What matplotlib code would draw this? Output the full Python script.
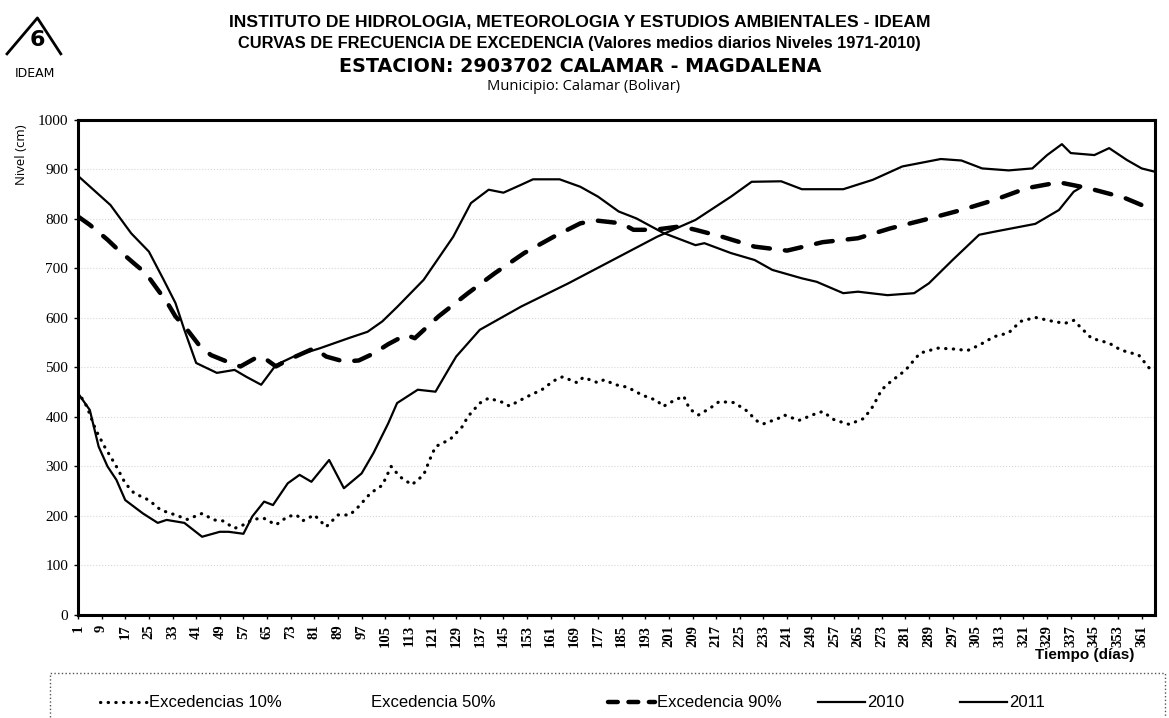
import numpy as np
import matplotlib
matplotlib.use('Agg')
from matplotlib import pyplot as plt
from matplotlib.lines import Line2D
from matplotlib.patches import Rectangle

# curve readings (day of year, level in cm)
days_10 = [1, 4, 7, 10, 14, 17, 20, 25, 29, 34,
           38, 43, 47, 50, 54, 57, 59, 62, 64, 68,
           72, 75, 77, 81, 85, 89, 93, 96, 100, 104,
           107, 110, 114, 118, 120, 122, 127, 131, 133, 137,
           140, 145, 147, 153, 158, 162, 165, 170, 172, 177,
           179, 183, 187, 192, 197, 199, 203, 206, 208, 211,
           215, 218, 223, 227, 231, 233, 238, 240, 245, 250,
           253, 257, 262, 267, 270, 273, 276, 281, 286, 292,
           298, 302, 306, 311, 316, 320, 325, 331, 335, 338,
           344, 350, 354, 360, 365]
exc_10 = [451, 421, 374, 340, 300, 266, 246, 232, 212, 202,
          193, 205, 192, 190, 175, 182, 189, 195, 195, 182,
          199, 202, 190, 202, 178, 202, 202, 219, 246, 262,
          300, 279, 263, 283, 313, 340, 355, 380, 401, 428,
          438, 429, 422, 441, 455, 473, 481, 469, 480, 469,
          475, 465, 460, 444, 433, 421, 434, 442, 416, 404,
          418, 431, 429, 414, 391, 386, 397, 404, 393, 405,
          411, 394, 385, 397, 421, 455, 471, 494, 529, 539,
          537, 534, 545, 562, 570, 593, 601, 593, 589, 595,
          559, 549, 535, 525, 488]

days_90 = [1, 5, 11, 14, 20, 24, 28, 31, 34, 38, 42, 46, 53, 56, 62, 65, 68, 72,
           81, 85, 91, 96, 101, 106, 112, 115, 123, 133, 142, 152, 162, 171, 176,
           185, 189, 196, 205, 210, 219, 230, 241, 253, 265, 276, 288, 300, 311,
           322, 333, 343, 355, 365]
exc_90 = [805, 788, 758, 741, 710, 690, 657, 633, 603, 576, 545, 525, 508, 502, 522, 515, 502, 515,
          539, 522, 512, 514, 528, 547, 566, 559, 603, 650, 690, 731, 764, 791, 797,
          791, 778, 778, 785, 778, 764, 744, 736, 753, 761, 781, 799, 818, 838,
          862, 874, 862, 843, 818]

days_2010 = [1, 5, 8, 11, 14, 17, 23, 28, 31, 37, 40, 43, 49, 52, 57, 60, 64, 67, 72,
             76, 80, 86, 91, 97, 101, 106, 109, 116, 122, 127, 129, 137, 151, 167,
             182, 197, 210, 222, 229, 239, 246, 260, 270, 280, 293, 300, 307, 316,
             324, 329, 334, 337, 345, 350, 356, 361, 365]
lvl_2010 = [448, 414, 340, 300, 273, 232, 205, 186, 192, 186, 172, 158, 168, 168, 164, 199, 229, 222, 266,
            283, 269, 313, 256, 286, 327, 387, 428, 455, 451, 502, 522, 576, 623, 670,
            717, 764, 798, 845, 875, 876, 860, 860, 879, 906, 921, 918, 902, 898,
            902, 929, 951, 933, 929, 943, 919, 902, 896]

days_2011 = [1, 12, 19, 25, 30, 34, 37, 41, 48, 54, 58, 63, 68, 74, 83, 93, 99, 104,
             109, 118, 128, 134, 140, 145, 151, 155, 164, 171, 177, 184, 190, 199,
             210, 213, 222, 230, 236, 246, 251, 260, 265, 275, 284, 289, 297, 306,
             311, 325, 333, 338, 340]
lvl_2011 = [887, 828, 771, 734, 677, 630, 576, 509, 489, 495, 481, 465, 505, 522, 539, 560, 572, 593,
            622, 677, 764, 832, 859, 853, 869, 880, 880, 865, 845, 815, 801, 772,
            747, 751, 731, 717, 697, 680, 673, 650, 653, 646, 650, 670, 717, 768,
            774, 790, 818, 855, 862]

x_ticks = list(range(1, 362, 8))
y_ticks = list(range(0, 1001, 100))
labels = ['Excedencias 10%', 'Excedencia 50%', 'Excedencia 90%', '2010', '2011']

W, H = 1169, 718
fig = plt.figure(figsize=(W / 100, H / 100), dpi=100)
ax = fig.add_axes([0.0667, 0.1435, 0.9213, 0.6895])

ax.plot(days_10, exc_10, color='black', lw=2.3, dashes=(0.1, 2.3),
        dash_capstyle='round', solid_joinstyle='round')
ax.plot(days_90, exc_90, color='black', lw=3.2, dashes=(3.8, 3.4),
        dash_capstyle='round')
ax.plot(days_2010, lvl_2010, color='black', lw=1.6)
ax.plot(days_2011, lvl_2011, color='black', lw=1.6)

ax.set_xlim(1, 365.5)
ax.set_ylim(0, 1000)
ax.set_yticks(y_ticks)
ax.set_xticks(x_ticks)
ax.set_xticklabels([str(t) for t in x_ticks], rotation=90, fontsize=10.5,
                   family='Liberation Serif', fontweight='bold')
ax.set_yticklabels([str(t) for t in y_ticks], fontsize=11, family='Liberation Serif')
ax.tick_params(axis='both', length=3, width=1, pad=4)
ax.grid(axis='y', color='#d8d8d8', linestyle=':', lw=0.8)
for s in ax.spines.values():
    s.set_linewidth(2.2)

sans = 'Liberation Sans'
fig.text(0.496, 0.969, 'INSTITUTO DE HIDROLOGIA, METEOROLOGIA Y ESTUDIOS AMBIENTALES - IDEAM',
         ha='center', va='center', fontsize=12.6, fontweight='bold', family=sans)
fig.text(0.496, 0.939, 'CURVAS DE FRECUENCIA DE EXCEDENCIA (Valores medios diarios Niveles 1971-2010)',
         ha='center', va='center', fontsize=11.8, fontweight='bold', family=sans)
fig.text(0.496, 0.908, 'ESTACION: 2903702 CALAMAR - MAGDALENA',
         ha='center', va='center', fontsize=13.8, fontweight='bold', family='DejaVu Sans')
fig.text(0.499, 0.879, 'Municipio: Calamar (Bolivar)',
         ha='center', va='center', fontsize=10.6, family='Open Sans')
fig.text(0.018, 0.784, 'Nivel (cm)', rotation=90, ha='center', va='center',
         fontsize=9.5, family='Open Sans')
fig.text(0.928, 0.088, 'Tiempo (días)', ha='center', va='center',
         fontsize=11, fontweight='bold', family=sans)

# logo
fig.add_artist(Line2D([0.006, 0.032, 0.052], [0.925, 0.975, 0.925], color='black', lw=2))
fig.text(0.032, 0.944, '6', ha='center', va='center', fontsize=16, fontweight='bold')
fig.text(0.030, 0.898, 'IDEAM', ha='center', va='center', fontsize=9, family='DejaVu Sans')

# legend: dotted frame plus one entry per series, placed like the original
fig.add_artist(Rectangle((50 / W, -0.01), 1115 / W, (718 - 673) / H + 0.01,
                         transform=fig.transFigure, fill=False, ec='#555555',
                         lw=1, ls=':'))
handles = [
    Line2D([], [], color='black', lw=2.3, dashes=(0.1, 2.3), dash_capstyle='round'),
    Line2D([], [], color='white', lw=1),
    Line2D([], [], color='black', lw=3.2, dashes=(2.2, 2.4), dash_capstyle='round'),
    Line2D([], [], color='black', lw=1.6),
    Line2D([], [], color='black', lw=1.6),
]
entry_x = [100, 322, 608, 818, 960]
for h, lab, xp in zip(handles, labels, entry_x):
    lg = fig.legend([h], [lab], loc='center left', bbox_to_anchor=(xp / W, 0.021),
                    frameon=False, prop={'family': sans, 'size': 12},
                    handlelength=2.8, handletextpad=0.15, borderpad=0,
                    borderaxespad=0)

fig.savefig('out.png', dpi=100)
